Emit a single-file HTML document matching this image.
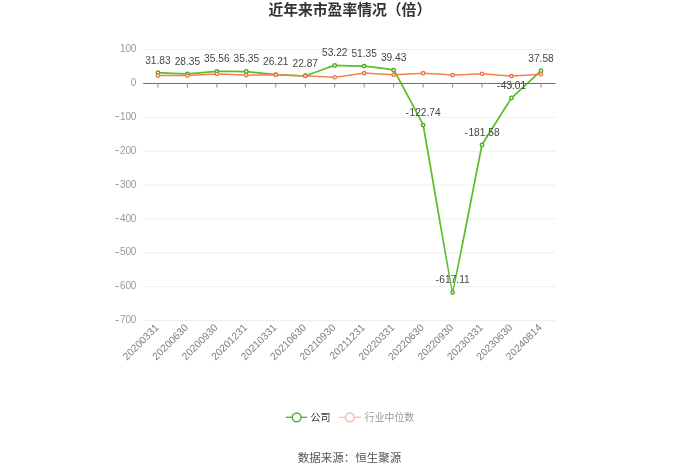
<!DOCTYPE html>
<html lang="zh"><head><meta charset="utf-8"><title>近年来市盈率情况（倍）</title>
<style>html,body{margin:0;padding:0;background:#fff}body{width:700px;height:473px;overflow:hidden}svg{display:block}text{font-family:"Liberation Sans","Noto Sans CJK SC",sans-serif}</style>
</head><body>
<svg width="700" height="473" viewBox="0 0 700 473">
<rect width="700" height="473" fill="#fff"/>
<text x="349.8" y="15.1" text-anchor="middle" font-size="14.8" font-weight="bold" fill="#333">近年来市盈率情况（倍）</text>
<line x1="143.2" x2="555.7" y1="49.62" y2="49.62" stroke="#eeeeee" stroke-width="1"/>
<text x="136.2" y="52.12" text-anchor="end" font-size="10" letter-spacing="-0.2" fill="#999">100</text>
<text x="136.2" y="86.00" text-anchor="end" font-size="10" letter-spacing="-0.2" fill="#999">0</text>
<line x1="143.2" x2="555.7" y1="117.38" y2="117.38" stroke="#eeeeee" stroke-width="1"/>
<text x="136.2" y="119.88" text-anchor="end" font-size="10" letter-spacing="-0.2" fill="#999"><tspan font-size="12.4" dy="0.6" letter-spacing="1">-</tspan><tspan dy="-0.6">100</tspan></text>
<line x1="143.2" x2="555.7" y1="151.25" y2="151.25" stroke="#eeeeee" stroke-width="1"/>
<text x="136.2" y="153.75" text-anchor="end" font-size="10" letter-spacing="-0.2" fill="#999"><tspan font-size="12.4" dy="0.6" letter-spacing="1">-</tspan><tspan dy="-0.6">200</tspan></text>
<line x1="143.2" x2="555.7" y1="185.12" y2="185.12" stroke="#eeeeee" stroke-width="1"/>
<text x="136.2" y="187.62" text-anchor="end" font-size="10" letter-spacing="-0.2" fill="#999"><tspan font-size="12.4" dy="0.6" letter-spacing="1">-</tspan><tspan dy="-0.6">300</tspan></text>
<line x1="143.2" x2="555.7" y1="219.00" y2="219.00" stroke="#eeeeee" stroke-width="1"/>
<text x="136.2" y="221.50" text-anchor="end" font-size="10" letter-spacing="-0.2" fill="#999"><tspan font-size="12.4" dy="0.6" letter-spacing="1">-</tspan><tspan dy="-0.6">400</tspan></text>
<line x1="143.2" x2="555.7" y1="252.88" y2="252.88" stroke="#eeeeee" stroke-width="1"/>
<text x="136.2" y="255.38" text-anchor="end" font-size="10" letter-spacing="-0.2" fill="#999"><tspan font-size="12.4" dy="0.6" letter-spacing="1">-</tspan><tspan dy="-0.6">500</tspan></text>
<line x1="143.2" x2="555.7" y1="286.75" y2="286.75" stroke="#eeeeee" stroke-width="1"/>
<text x="136.2" y="289.25" text-anchor="end" font-size="10" letter-spacing="-0.2" fill="#999"><tspan font-size="12.4" dy="0.6" letter-spacing="1">-</tspan><tspan dy="-0.6">600</tspan></text>
<line x1="143.2" x2="555.7" y1="320.62" y2="320.62" stroke="#eeeeee" stroke-width="1"/>
<text x="136.2" y="323.12" text-anchor="end" font-size="10" letter-spacing="-0.2" fill="#999"><tspan font-size="12.4" dy="0.6" letter-spacing="1">-</tspan><tspan dy="-0.6">700</tspan></text>
<text transform="translate(159.43,328.23) rotate(-45)" text-anchor="end" font-size="10.3" fill="#7d7d7d">20200331</text>
<text transform="translate(188.90,328.23) rotate(-45)" text-anchor="end" font-size="10.3" fill="#7d7d7d">20200630</text>
<text transform="translate(218.36,328.23) rotate(-45)" text-anchor="end" font-size="10.3" fill="#7d7d7d">20200930</text>
<text transform="translate(247.82,328.23) rotate(-45)" text-anchor="end" font-size="10.3" fill="#7d7d7d">20201231</text>
<text transform="translate(277.29,328.23) rotate(-45)" text-anchor="end" font-size="10.3" fill="#7d7d7d">20210331</text>
<text transform="translate(306.75,328.23) rotate(-45)" text-anchor="end" font-size="10.3" fill="#7d7d7d">20210630</text>
<text transform="translate(336.22,328.23) rotate(-45)" text-anchor="end" font-size="10.3" fill="#7d7d7d">20210930</text>
<text transform="translate(365.68,328.23) rotate(-45)" text-anchor="end" font-size="10.3" fill="#7d7d7d">20211231</text>
<text transform="translate(395.15,328.23) rotate(-45)" text-anchor="end" font-size="10.3" fill="#7d7d7d">20220331</text>
<text transform="translate(424.61,328.23) rotate(-45)" text-anchor="end" font-size="10.3" fill="#7d7d7d">20220630</text>
<text transform="translate(454.08,328.23) rotate(-45)" text-anchor="end" font-size="10.3" fill="#7d7d7d">20220930</text>
<text transform="translate(483.54,328.23) rotate(-45)" text-anchor="end" font-size="10.3" fill="#7d7d7d">20230331</text>
<text transform="translate(513.00,328.23) rotate(-45)" text-anchor="end" font-size="10.3" fill="#7d7d7d">20230630</text>
<text transform="translate(542.47,328.23) rotate(-45)" text-anchor="end" font-size="10.3" fill="#7d7d7d">20240814</text>
<path d="M157.93,72.72 C157.93,72.72 186.51,73.92 187.40,73.90 C188.28,73.88 215.98,71.49 216.86,71.45 C217.74,71.42 245.44,71.48 246.32,71.53 C247.21,71.57 274.90,74.56 275.79,74.62 C276.67,74.68 304.39,75.89 305.25,75.75 C306.16,75.61 333.81,65.62 334.72,65.47 C335.58,65.47 363.30,66.04 364.18,66.11 C365.07,66.18 393.08,69.57 393.65,70.14 C394.84,71.34 422.64,123.29 423.11,125.08 C424.40,129.96 451.64,292.23 452.58,292.55 C453.40,292.55 480.75,149.27 482.04,145.01 C482.52,143.44 510.48,99.36 511.50,98.07 C512.25,97.13 540.97,70.77 540.97,70.77" fill="none" stroke="#5cbf28" stroke-width="1.75" stroke-linejoin="round" stroke-linecap="round"/>
<circle cx="157.93" cy="72.72" r="1.7" fill="#fff" stroke="#55ad2b" stroke-width="1.5"/>
<circle cx="187.40" cy="73.90" r="1.7" fill="#fff" stroke="#55ad2b" stroke-width="1.5"/>
<circle cx="216.86" cy="71.45" r="1.7" fill="#fff" stroke="#55ad2b" stroke-width="1.5"/>
<circle cx="246.32" cy="71.53" r="1.7" fill="#fff" stroke="#55ad2b" stroke-width="1.5"/>
<circle cx="275.79" cy="74.62" r="1.7" fill="#fff" stroke="#55ad2b" stroke-width="1.5"/>
<circle cx="305.25" cy="75.75" r="1.7" fill="#fff" stroke="#55ad2b" stroke-width="1.5"/>
<circle cx="334.72" cy="65.47" r="1.7" fill="#fff" stroke="#55ad2b" stroke-width="1.5"/>
<circle cx="364.18" cy="66.11" r="1.7" fill="#fff" stroke="#55ad2b" stroke-width="1.5"/>
<circle cx="393.65" cy="70.14" r="1.7" fill="#fff" stroke="#55ad2b" stroke-width="1.5"/>
<circle cx="423.11" cy="125.08" r="1.7" fill="#fff" stroke="#55ad2b" stroke-width="1.5"/>
<circle cx="452.58" cy="292.55" r="1.7" fill="#fff" stroke="#55ad2b" stroke-width="1.5"/>
<circle cx="482.04" cy="145.01" r="1.7" fill="#fff" stroke="#55ad2b" stroke-width="1.5"/>
<circle cx="511.50" cy="98.07" r="1.7" fill="#fff" stroke="#55ad2b" stroke-width="1.5"/>
<circle cx="540.97" cy="70.77" r="1.7" fill="#fff" stroke="#55ad2b" stroke-width="1.5"/>
<path d="M157.93,75.57 C157.93,75.57 186.51,75.63 187.40,75.61 C188.28,75.58 215.98,73.92 216.86,73.91 C217.74,73.91 245.44,75.19 246.32,75.20 C247.21,75.21 274.91,74.82 275.79,74.83 C276.67,74.84 304.37,75.84 305.25,75.88 C306.14,75.91 333.84,77.27 334.72,77.27 C335.61,77.23 363.29,73.14 364.18,73.10 C365.06,73.10 392.76,74.86 393.65,74.86 C394.53,74.86 422.23,73.20 423.11,73.20 C423.99,73.20 451.69,75.02 452.58,75.03 C453.46,75.04 481.16,73.76 482.04,73.78 C482.92,73.79 510.62,76.07 511.50,76.08 C512.39,76.09 540.97,74.22 540.97,74.22" fill="none" stroke="#f3814f" stroke-width="1.5" stroke-linejoin="round" stroke-linecap="round"/>
<circle cx="157.93" cy="75.57" r="1.65" fill="#fff" stroke="#ee7443" stroke-width="1.4"/>
<circle cx="187.40" cy="75.61" r="1.65" fill="#fff" stroke="#ee7443" stroke-width="1.4"/>
<circle cx="216.86" cy="73.91" r="1.65" fill="#fff" stroke="#ee7443" stroke-width="1.4"/>
<circle cx="246.32" cy="75.20" r="1.65" fill="#fff" stroke="#ee7443" stroke-width="1.4"/>
<circle cx="275.79" cy="74.83" r="1.65" fill="#fff" stroke="#ee7443" stroke-width="1.4"/>
<circle cx="305.25" cy="75.88" r="1.65" fill="#fff" stroke="#ee7443" stroke-width="1.4"/>
<circle cx="334.72" cy="77.27" r="1.65" fill="#fff" stroke="#ee7443" stroke-width="1.4"/>
<circle cx="364.18" cy="73.10" r="1.65" fill="#fff" stroke="#ee7443" stroke-width="1.4"/>
<circle cx="393.65" cy="74.86" r="1.65" fill="#fff" stroke="#ee7443" stroke-width="1.4"/>
<circle cx="423.11" cy="73.20" r="1.65" fill="#fff" stroke="#ee7443" stroke-width="1.4"/>
<circle cx="452.58" cy="75.03" r="1.65" fill="#fff" stroke="#ee7443" stroke-width="1.4"/>
<circle cx="482.04" cy="73.78" r="1.65" fill="#fff" stroke="#ee7443" stroke-width="1.4"/>
<circle cx="511.50" cy="76.08" r="1.65" fill="#fff" stroke="#ee7443" stroke-width="1.4"/>
<circle cx="540.97" cy="74.22" r="1.65" fill="#fff" stroke="#ee7443" stroke-width="1.4"/>
<line x1="143.2" x2="555.7" y1="83.5" y2="83.5" stroke="#707070" stroke-width="1"/>
<line x1="157.93" x2="157.93" y1="83.5" y2="87.5" stroke="#8a8a8a" stroke-width="1"/>
<line x1="187.40" x2="187.40" y1="83.5" y2="87.5" stroke="#8a8a8a" stroke-width="1"/>
<line x1="216.86" x2="216.86" y1="83.5" y2="87.5" stroke="#8a8a8a" stroke-width="1"/>
<line x1="246.32" x2="246.32" y1="83.5" y2="87.5" stroke="#8a8a8a" stroke-width="1"/>
<line x1="275.79" x2="275.79" y1="83.5" y2="87.5" stroke="#8a8a8a" stroke-width="1"/>
<line x1="305.25" x2="305.25" y1="83.5" y2="87.5" stroke="#8a8a8a" stroke-width="1"/>
<line x1="334.72" x2="334.72" y1="83.5" y2="87.5" stroke="#8a8a8a" stroke-width="1"/>
<line x1="364.18" x2="364.18" y1="83.5" y2="87.5" stroke="#8a8a8a" stroke-width="1"/>
<line x1="393.65" x2="393.65" y1="83.5" y2="87.5" stroke="#8a8a8a" stroke-width="1"/>
<line x1="423.11" x2="423.11" y1="83.5" y2="87.5" stroke="#8a8a8a" stroke-width="1"/>
<line x1="452.58" x2="452.58" y1="83.5" y2="87.5" stroke="#8a8a8a" stroke-width="1"/>
<line x1="482.04" x2="482.04" y1="83.5" y2="87.5" stroke="#8a8a8a" stroke-width="1"/>
<line x1="511.50" x2="511.50" y1="83.5" y2="87.5" stroke="#8a8a8a" stroke-width="1"/>
<line x1="540.97" x2="540.97" y1="83.5" y2="87.5" stroke="#8a8a8a" stroke-width="1"/>
<text x="157.93" y="63.52" text-anchor="middle" font-size="10.2" fill="#464646">31.83</text>
<text x="187.40" y="64.70" text-anchor="middle" font-size="10.2" fill="#464646">28.35</text>
<text x="216.86" y="62.25" text-anchor="middle" font-size="10.2" fill="#464646">35.56</text>
<text x="246.32" y="62.33" text-anchor="middle" font-size="10.2" fill="#464646">35.35</text>
<text x="275.79" y="65.42" text-anchor="middle" font-size="10.2" fill="#464646">26.21</text>
<text x="305.25" y="66.55" text-anchor="middle" font-size="10.2" fill="#464646">22.87</text>
<text x="334.72" y="56.27" text-anchor="middle" font-size="10.2" fill="#464646">53.22</text>
<text x="364.18" y="56.91" text-anchor="middle" font-size="10.2" fill="#464646">51.35</text>
<text x="393.65" y="60.94" text-anchor="middle" font-size="10.2" fill="#464646">39.43</text>
<text x="423.11" y="115.88" text-anchor="middle" font-size="10.2" fill="#464646"><tspan letter-spacing="0.5">-</tspan>122.74</text>
<text x="452.58" y="283.35" text-anchor="middle" font-size="10.2" fill="#464646"><tspan letter-spacing="0.5">-</tspan>617.11</text>
<text x="482.04" y="135.81" text-anchor="middle" font-size="10.2" fill="#464646"><tspan letter-spacing="0.5">-</tspan>181.58</text>
<text x="511.50" y="88.87" text-anchor="middle" font-size="10.2" fill="#464646"><tspan letter-spacing="0.5">-</tspan>43.01</text>
<text x="540.97" y="61.57" text-anchor="middle" font-size="10.2" fill="#464646">37.58</text>
<line x1="285.9" x2="307.1" y1="417.3" y2="417.3" stroke="#55c31f" stroke-width="1.4"/>
<circle cx="296.6" cy="417.3" r="4.4" fill="#fff" stroke="#5aaa35" stroke-width="1.5"/>
<text x="310.6" y="421.1" font-size="10" fill="#333">公司</text>
<line x1="339.3" x2="360.6" y1="417.3" y2="417.3" stroke="#f8c4ad" stroke-width="1.4"/>
<circle cx="349.9" cy="417.3" r="4.4" fill="#fff" stroke="#f3bfa9" stroke-width="1.5"/>
<text x="364.8" y="421.1" font-size="9.9" fill="#9a9a9a">行业中位数</text>
<text x="349.6" y="461.6" text-anchor="middle" font-size="11.5" fill="#555">数据来源：恒生聚源</text>
</svg></body></html>
